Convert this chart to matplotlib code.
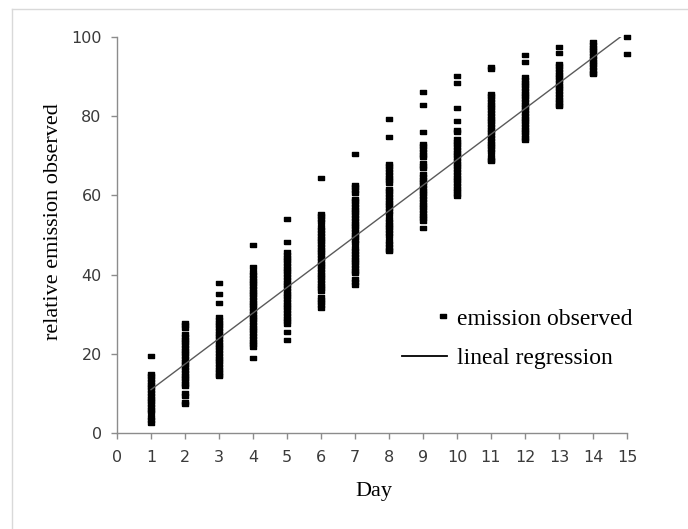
import matplotlib
matplotlib.use('Agg')
import matplotlib.pyplot as plt
from matplotlib.lines import Line2D
from matplotlib.legend_handler import HandlerLine2D
import numpy as np

# observed relative emission, one list per day
days = list(range(1, 16))
day01 = [19.4, 15.0, 14.3, 13.6, 12.9, 12.2, 11.5, 10.8, 10.1, 9.4, 8.7, 8.0, 7.3, 6.6,
         5.9, 5.4, 4.0, 3.3, 2.6]
day02 = [27.9, 27.2, 26.5, 25.0, 24.3, 23.6, 22.9, 22.2, 21.5, 20.8, 20.1, 19.4, 18.7, 18.0,
         17.3, 16.6, 15.9, 15.2, 14.5, 13.8, 13.1, 12.4, 11.8, 10.0, 9.4, 7.9, 7.4]
day03 = [38.0, 35.1, 32.9, 29.3, 28.6, 27.9, 27.2, 26.5, 25.8, 25.1, 24.4, 23.7, 23.0, 22.3,
         21.6, 20.9, 20.2, 19.5, 18.8, 18.1, 17.4, 16.7, 16.0, 15.3, 14.6, 14.3]
day04 = [47.5, 42.0, 40.6, 39.9, 39.2, 38.5, 37.8, 37.1, 36.4, 35.7, 35.0, 34.3, 33.6, 32.9,
         32.2, 31.5, 30.8, 30.1, 29.4, 28.7, 28.0, 27.3, 26.6, 25.9, 25.2, 24.5, 23.8, 23.1,
         22.4, 21.7, 19.0]
day05 = [54.0, 48.3, 45.7, 45.0, 44.3, 43.6, 42.9, 42.2, 41.5, 40.8, 40.1, 39.4, 38.7, 38.0,
         37.3, 36.6, 35.9, 35.2, 34.5, 33.8, 33.1, 32.4, 31.7, 31.0, 30.3, 29.6, 28.9, 28.2,
         27.5, 25.6, 23.4]
day06 = [64.3, 55.4, 54.7, 54.0, 53.3, 51.9, 51.2, 50.5, 49.8, 49.1, 48.4, 47.7, 47.0, 46.3,
         45.6, 44.9, 44.2, 43.5, 42.8, 42.1, 41.4, 40.7, 40.0, 39.3, 38.6, 37.9, 37.2, 36.5,
         35.8, 34.4, 33.7, 33.0, 32.3, 31.6]
day07 = [70.5, 62.7, 62.0, 61.3, 60.6, 59.2, 58.5, 57.8, 57.1, 56.4, 55.7, 55.0, 54.3, 53.6,
         52.9, 52.2, 51.5, 50.8, 50.1, 49.4, 48.7, 48.0, 46.6, 45.9, 45.2, 44.5, 43.8, 43.1,
         42.4, 41.7, 41.0, 40.3, 38.9, 38.2, 37.5]
day08 = [79.2, 74.8, 68.0, 67.3, 66.6, 65.9, 65.2, 64.5, 63.8, 63.1, 61.7, 61.0, 60.3, 59.6,
         58.9, 58.2, 57.5, 56.8, 56.1, 55.4, 54.0, 53.3, 52.6, 51.9, 51.2, 50.5, 49.8, 48.4,
         47.7, 47.0, 46.3, 45.9]
day09 = [86.0, 82.8, 76.1, 73.1, 72.4, 71.7, 71.0, 70.3, 69.6, 68.2, 67.5, 66.8, 65.4, 64.7,
         64.0, 63.3, 62.6, 61.9, 61.2, 60.5, 59.8, 59.1, 58.4, 57.7, 57.0, 56.3, 55.6, 54.9,
         54.2, 53.5, 51.7]
day10 = [90.2, 88.3, 82.1, 78.8, 76.6, 75.9, 74.3, 73.6, 72.9, 72.2, 71.5, 70.8, 70.1, 69.4,
         68.7, 68.0, 67.3, 66.6, 65.9, 65.2, 64.5, 63.8, 63.1, 62.4, 61.7, 61.0, 60.3, 59.8]
day11 = [92.5, 92.0, 85.7, 85.0, 84.3, 83.6, 82.9, 82.2, 81.5, 80.8, 80.1, 79.4, 78.7, 78.0,
         77.3, 76.6, 75.9, 75.2, 74.5, 73.8, 73.1, 72.4, 71.7, 71.0, 69.6, 68.9, 68.6]
day12 = [95.5, 93.8, 89.9, 89.2, 88.5, 87.8, 87.1, 86.4, 85.7, 85.0, 84.3, 83.6, 82.9, 82.2,
         81.5, 80.8, 80.1, 79.4, 78.7, 78.0, 77.3, 76.6, 75.9, 75.2, 74.5, 74.1]
day13 = [97.6, 95.9, 93.3, 92.6, 91.9, 91.2, 90.5, 89.8, 89.1, 88.4, 87.7, 87.0, 86.3, 85.6,
         84.9, 84.2, 83.5, 82.8, 82.6]
day14 = [98.7, 98.0, 97.3, 96.6, 95.9, 95.2, 94.5, 93.8, 93.1, 92.4, 91.7, 91.0, 90.7]
day15 = [100.0, 95.6]

# fitted line
reg_intercept = 4.5
reg_slope = 6.45
reg_days = [1, 15]

x_ticks = list(range(0, 16))
y_ticks = [0, 20, 40, 60, 80, 100]

serif = 'Liberation Serif'
axis_grey = '#8c8c8c'
tick_text = '#3a3a3a'


class MarkerAtEnd(HandlerLine2D):
    # single legend marker drawn at the right end of the handle, next to the text
    def get_xdata(self, legend, xdescent, ydescent, width, height, fontsize):
        xm = -xdescent + width - 3
        return [xm - 1, xm + 1], [xm]


groups = [day01, day02, day03, day04, day05, day06, day07, day08,
          day09, day10, day11, day12, day13, day14, day15]
xs = np.repeat(days, [len(g) for g in groups])
ys = np.concatenate(groups)

rect = [(-1, -0.62), (1, -0.62), (1, 0.62), (-1, 0.62), (-1, -0.62)]

fig = plt.figure(figsize=(6.88, 5.29), dpi=100)
ax = fig.add_axes([117 / 688, 96 / 529, 510 / 688, 396 / 529])

pts, = ax.plot(xs, ys, linestyle='none', marker=rect, markersize=4.4,
               color='black', clip_on=False, label='emission observed')
rx = np.array(reg_days, dtype=float)
line, = ax.plot(rx, reg_intercept + reg_slope * rx, color='#5a5a5a', lw=1.0,
                label='lineal regression')

ax.set_xlim(0, 15)
ax.set_ylim(0, 100)
ax.set_xticks(x_ticks)
ax.set_yticks(y_ticks)
for s in ['top', 'right']:
    ax.spines[s].set_visible(False)
for s in ['left', 'bottom']:
    ax.spines[s].set_color(axis_grey)
    ax.spines[s].set_linewidth(1.0)
ax.tick_params(axis='both', direction='out', length=4.5, width=1.0, color=axis_grey,
               labelsize=11.5, labelcolor=tick_text)
ax.tick_params(axis='x', pad=7.5)
ax.tick_params(axis='y', pad=6.5)

ax.set_xlabel('Day', fontfamily=serif, fontsize=16)
ax.set_ylabel('relative emission observed', fontfamily=serif, fontsize=16)
ax.xaxis.set_label_coords(0.504, -0.124)
ax.yaxis.set_label_coords(-0.105, 0.535)

leg = ax.legend(handles=[pts, line], loc='upper left',
                bbox_to_anchor=(402 / 688, 1 - 308 / 529), bbox_transform=fig.transFigure,
                frameon=False, prop={'family': serif, 'size': 17},
                handlelength=1.9, handletextpad=0.45, labelspacing=0.75,
                borderpad=0, borderaxespad=0, numpoints=1,
                handler_map={pts: MarkerAtEnd()})
leg.legend_handles[1].set_color('black')
leg.legend_handles[1].set_linewidth(1.3)

# thin frame lines at the left and top edge of the picture
fig.add_artist(Line2D([12 / 688, 12 / 688], [0, 1 - 9 / 529], color='#d9d9d9', lw=1))
fig.add_artist(Line2D([12 / 688, 1], [1 - 9 / 529, 1 - 9 / 529], color='#d9d9d9', lw=1))

fig.savefig('out.png', dpi=100)
